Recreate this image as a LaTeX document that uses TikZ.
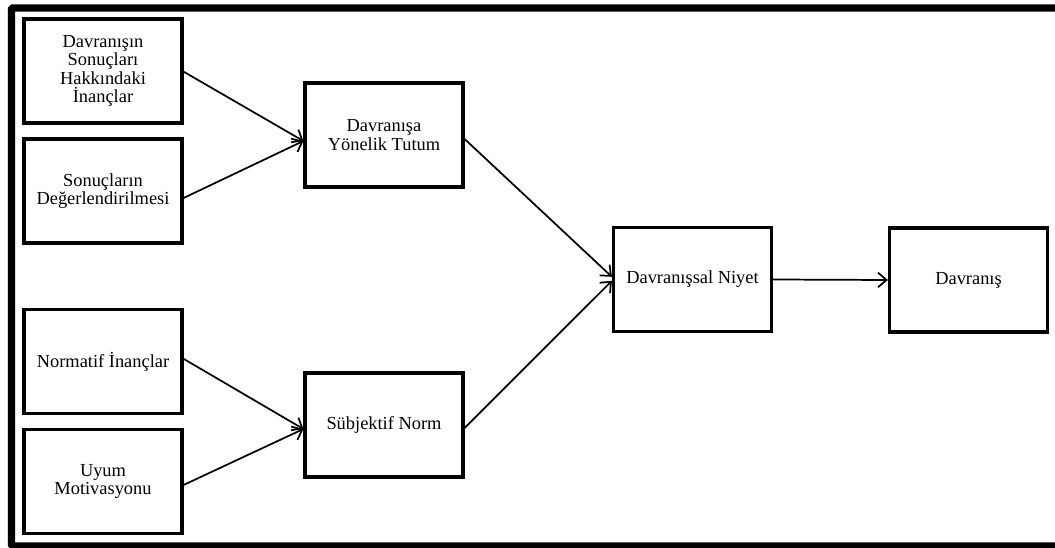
\documentclass[tikz,border=0pt]{standalone}
\usepackage{fontspec}
\setmainfont{Liberation Serif}
\usetikzlibrary{arrows.meta}
\begin{document}
\begin{tikzpicture}[x=0.75pt,y=-0.75pt,
  box/.style={draw=black, line width=2.4pt, fill=white, align=center,
    minimum width=118.5pt, minimum height=78pt, inner sep=2pt,
    font=\fontsize{13.8pt}{13.7pt}\selectfont},
  arr/.style={draw=black, line width=1.3pt,
    -{Straight Barb[length=6.5pt,width=11pt,line width=1.3pt]}},
  frame/.style={draw=black, line width=5.5pt}]
  \useasboundingbox (0,0) rectangle (1055,548);
  \clip (0,0) rectangle (1055,548);
  % outer frame (right side runs past the edge)
  \draw[frame, rounded corners=1pt] (11.5,8) rectangle (1066,546);

  % belief and evaluation boxes
  \node[box] (inan)  at (103,71)    {Davranışın\\Sonuçları\\Hakkındaki\\İnançlar};
  \node[box] (deger) at (103,191)   {Sonuçların\\Değerlendirilmesi};
  \node[box] (norm)  at (103,361.5) {Normatif İnançlar};
  \node[box] (uyum)  at (103,481.5) {Uyum\\Motivasyonu};

  % attitude and subjective norm
  \node[box] (tutum) at (384,135) {Davranışa\\Yönelik Tutum};
  \node[box] (subj)  at (384,425) {Sübjektif Norm};

  % intention and behaviour
  \node[box] (niyet) at (692.5,279.5) {Davranışsal Niyet};
  \node[box] (davr)  at (968.5,280)   {Davranış};

  % connectors
  \draw[arr] ([yshift=-0.5pt]inan.east)  -- ([yshift=-4.5pt]tutum.west);
  \draw[arr] ([yshift=-5.25pt]deger.east) -- ([yshift=-4.5pt]tutum.west);
  \draw[arr] ([yshift=2pt]norm.east)     -- ([yshift=-3pt]subj.west);
  \draw[arr] ([yshift=-2.6pt]uyum.east)  -- ([yshift=-3pt]subj.west);
  \draw[arr] ([yshift=-3pt]tutum.east)   -- ([yshift=2pt]niyet.west);
  \draw[arr] ([yshift=-2.25pt]subj.east) -- ([yshift=-1pt]niyet.west);
  \draw[arr] ([yshift=0pt]niyet.east)    -- (davr.west);
\end{tikzpicture}
\end{document}
